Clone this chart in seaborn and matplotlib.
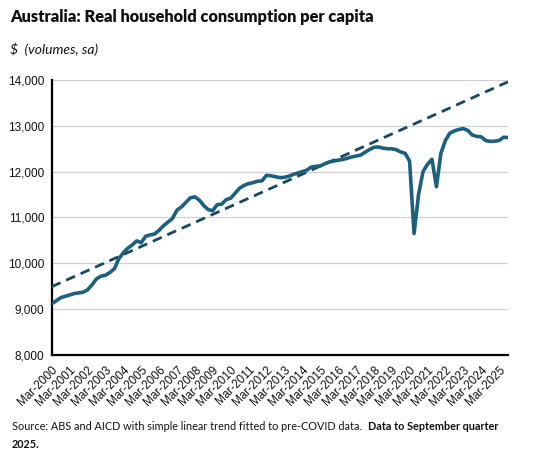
import numpy as np
import pandas as pd
import matplotlib
matplotlib.use("Agg")
import matplotlib.pyplot as plt
import seaborn as sns

# ---- data (quarterly, Mar-2000 .. Sep-2025) ----
consumption = [
    9120, 9180, 9250, 9280, 9310, 9340, 9355, 9370, 9420, 9530,
    9660, 9720, 9740, 9800, 9880, 10100, 10230, 10330, 10400, 10490,
    10450, 10590, 10620, 10640, 10720, 10820, 10900, 10980, 11160, 11230,
    11330, 11430, 11450, 11380, 11260, 11170, 11150, 11280, 11290, 11390,
    11420, 11530, 11640, 11700, 11740, 11760, 11790, 11800, 11920, 11910,
    11890, 11870, 11875, 11900, 11940, 11970, 12000, 12030, 12100, 12115,
    12125, 12170, 12210, 12230, 12250, 12265, 12290, 12320, 12340, 12360,
    12420, 12480, 12530, 12540, 12515, 12500, 12500, 12480, 12430, 12400,
    12230, 10650, 11500, 12000, 12160, 12270, 11670, 12400, 12680, 12840,
    12890, 12920, 12940, 12900, 12800, 12770, 12760, 12680, 12660, 12665,
    12680, 12750, 12745,
]
years = list(range(2000, 2026))
tick_labels = [f"Mar-{y}" for y in years]
trend_index = [0, 102]
trend_values = [9490, 13960]
y_ticks = [8000, 9000, 10000, 11000, 12000, 13000, 14000]

df = pd.DataFrame({"q": np.arange(len(consumption)), "value": consumption})
df_trend = pd.DataFrame({"q": trend_index, "value": trend_values})

sns.set_style("white")
plt.rcParams["font.family"] = ["Liberation Sans", "DejaVu Sans"]

fig = plt.figure(figsize=(5.48, 4.54), dpi=100)
ax = fig.add_axes([51.7 / 548, 1 - 355 / 454, (508 - 51.7) / 548, (355 - 80) / 454])

line_col = "#1D5F7E"
trend_col = "#17485F"

sns.lineplot(data=df_trend, x="q", y="value", ax=ax, color=trend_col,
             linewidth=2.0, linestyle=(0, (3.5, 2.2)), zorder=3)
sns.lineplot(data=df, x="q", y="value", ax=ax, color=line_col,
             linewidth=2.6, zorder=4, solid_joinstyle="round")

ax.set_xlim(0, len(consumption) - 1)
ax.set_ylim(8000, 14000)
ax.set_yticks(y_ticks)
ax.set_yticklabels([f"{v:,}" for v in y_ticks], fontsize=8.5, color="#111111")
ax.set_xticks(np.arange(0, 4 * len(years), 4))
ax.set_xticklabels(tick_labels, rotation=45, ha="right", rotation_mode="anchor",
                   fontsize=8.5, color="#111111")
ax.set_xlabel("")
ax.set_ylabel("")

ax.grid(axis="y", color="#D0D0D0", linewidth=0.9)
ax.grid(axis="x", visible=False)
ax.set_axisbelow(True)
for s in ["top", "right"]:
    ax.spines[s].set_visible(False)
for s in ["left", "bottom"]:
    ax.spines[s].set_color("black")
    ax.spines[s].set_linewidth(1.6)
ax.tick_params(axis="both", which="major", direction="out", length=3.5,
               width=1.4, color="black", pad=2)
ax.tick_params(axis="x", pad=3)

fig.text(10 / 548, 1 - 17 / 454, "Australia: Real household consumption per capita",
         fontsize=11.8, fontweight="heavy", family=["Lato", "DejaVu Sans"],
         va="center", ha="left", color="#111111")
fig.text(10 / 548, 1 - 49 / 454, "$  (volumes, sa)", fontsize=10, style="italic",
         family=["Lato", "DejaVu Sans"], va="center", ha="left", color="#111111")

fn = dict(fontsize=7.8, family=["Lato", "DejaVu Sans"], va="center", ha="left",
          color="#111111")
t1 = fig.text(12 / 548, 1 - 427 / 454,
              "Source: ABS and AICD with simple linear trend fitted to pre-COVID data.  ",
              **fn)
fig.canvas.draw()
bb = t1.get_window_extent(renderer=fig.canvas.get_renderer())
x_next = bb.x1 / fig.bbox.width
fig.text(x_next, 1 - 427 / 454, "Data to September quarter", fontweight="bold", **fn)
fig.text(12 / 548, 1 - 444 / 454, "2025.", fontweight="bold", **fn)

fig.savefig("out.png", dpi=100)
